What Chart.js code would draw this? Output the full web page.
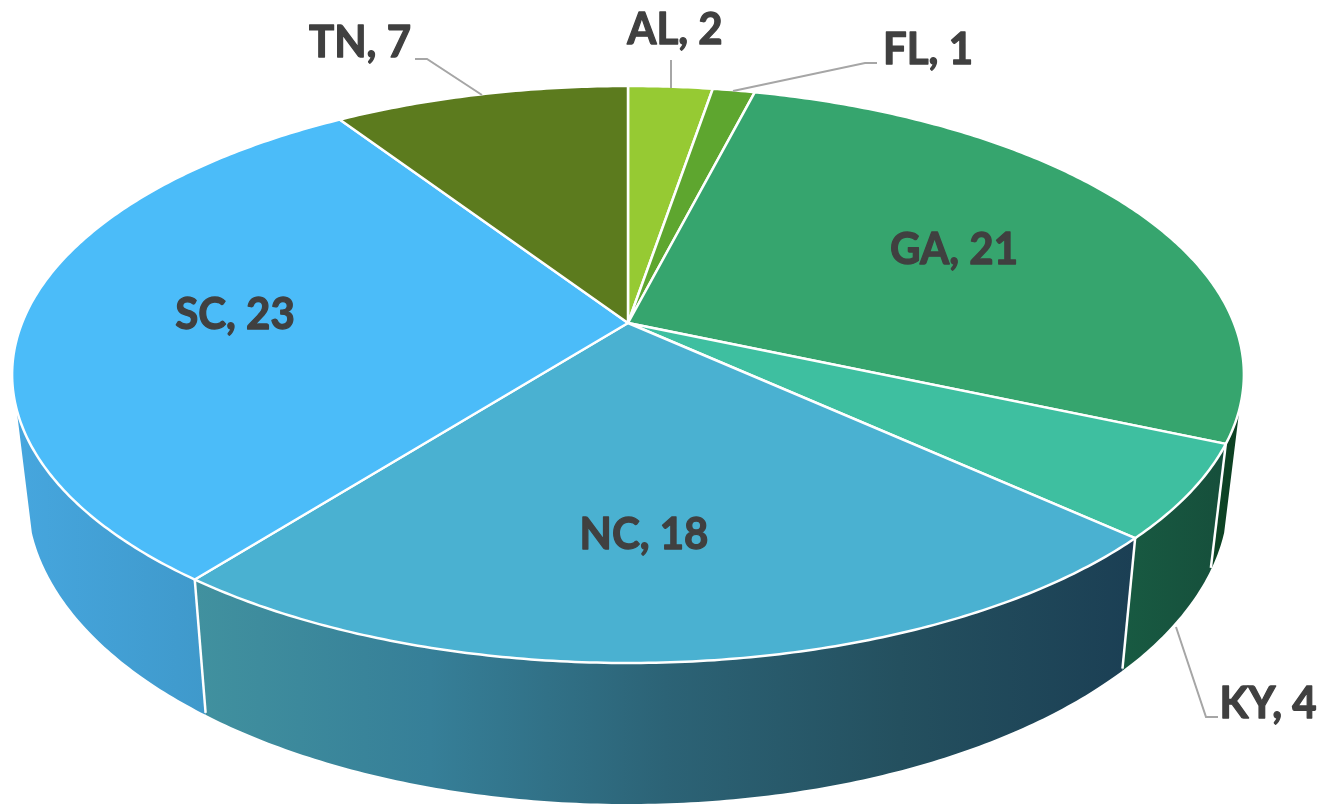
<!DOCTYPE html>
<html>
<head>
<meta charset="utf-8">
<style>html,body{margin:0;padding:0;background:#fff}canvas{display:block}</style>
<script src="https://cdn.jsdelivr.net/npm/chart.js@4"></script>
</head>
<body>
<canvas id="c" width="1321" height="804"></canvas>
<script>
const categories = ['AL','FL','GA','KY','NC','SC','TN'];
const values = [2,1,21,4,18,23,7];
const topColors = ['#96ca33','#5ea62f','#36a56e','#3ebfa0','#4ab1d1','#4bbcf9','#5c7b1e'];
const wallStops = [
  ['#6d9a20','#6d9a20'],['#3d7a1e','#3d7a1e'],['#0d4526','#0d3f22'],
  ['#185a42','#164f3b'],
  ['#41919f','#367f98','#2c6376','#24505f','#1b3f54'],
  ['#46a6de','#3f99cb'],['#3f5a14','#3f5a14']
];
const labelAnchors = [[675,30],[928,50],[954,250],[1268,704],[644,535],[235,315],[360,43]];
const leaders = [
  [[671,60],[671,88]],
  [[877,63],[865,63],[733,91]],
  null,
  [[1218,717],[1206,717],[1176,627]],
  null,null,
  [[415,59],[427,59],[482,95]]
];

// perspective view of the pie disc
const view = {cx:628, cy:323, a:606, b:279.3, p:-0.1785};
const rimMin = 107*Math.PI/180 - Math.PI/2, rimMax = 253*Math.PI/180 - Math.PI/2;
function project(angle){
  const u=Math.cos(angle), v=Math.sin(angle), d=1+view.p*v;
  return [view.cx+view.a*u/d, view.cy+view.b*v/d];
}
function lower(pt){ return [view.cx+(pt[0]-view.cx)*0.975, pt[1]*1.0685+95.6]; }
function samples(a0,a1){
  const n=Math.max(2,Math.ceil((a1-a0)/0.01)), out=[];
  for(let i=0;i<=n;i++) out.push(project(a0+(a1-a0)*i/n));
  return out;
}

// each slice is drawn by the library's arc element, through the perspective view
Chart.ArcElement.prototype.draw = function(ctx){
  const o=this.options;
  const pts=samples(this.startAngle,this.endAngle);
  ctx.save();
  ctx.beginPath();
  ctx.moveTo(view.cx,view.cy);
  pts.forEach(p=>ctx.lineTo(p[0],p[1]));
  ctx.closePath();
  ctx.fillStyle=o.backgroundColor;
  ctx.fill();
  ctx.lineWidth=o.borderWidth;
  ctx.strokeStyle=o.borderColor;
  ctx.lineJoin='round';
  ctx.stroke();
  ctx.restore();
};

const wallPlugin={
  id:'wall',
  beforeDatasetsDraw(chart){
    const ctx=chart.ctx, arcs=chart.getDatasetMeta(0).data;
    ctx.save();
    arcs.forEach((arc,i)=>{
      const a0=Math.max(arc.startAngle,rimMin), a1=Math.min(arc.endAngle,rimMax);
      if(a1<=a0) return;
      const up=samples(a0,a1), lo=up.map(lower).reverse();
      const xs=up.concat(lo).map(p=>p[0]);
      const g=ctx.createLinearGradient(Math.min(...xs),0,Math.max(...xs),0);
      const st=wallStops[i];
      st.forEach((c,k)=>g.addColorStop(k/(st.length-1),c));
      ctx.beginPath();
      up.concat(lo).forEach((p,k)=>k?ctx.lineTo(p[0],p[1]):ctx.moveTo(p[0],p[1]));
      ctx.closePath();
      ctx.fillStyle=g;
      ctx.fill();
    });
    ctx.strokeStyle='#ffffff';
    ctx.lineWidth=2.5;
    arcs.forEach(arc=>{
      const a=arc.endAngle;
      if(a>rimMin && a<rimMax){
        const p=project(a), q=lower(p);
        ctx.beginPath();ctx.moveTo(p[0],p[1]);ctx.lineTo(q[0],q[1]-2);ctx.stroke();
      }
    });
    ctx.restore();
  },
  afterDatasetsDraw(chart){
    const ctx=chart.ctx;
    ctx.save();
    ctx.strokeStyle='#a6a6a6';
    ctx.lineWidth=2;
    leaders.forEach(l=>{
      if(!l) return;
      ctx.beginPath();
      l.forEach((p,k)=>k?ctx.lineTo(p[0],p[1]):ctx.moveTo(p[0],p[1]));
      ctx.stroke();
    });
    ctx.fillStyle='#404040';
    ctx.strokeStyle='#404040';
    ctx.lineWidth=1.3;
    ctx.lineJoin='round';
    ctx.font='bold 44px Lato';
    ctx.textAlign='center';
    ctx.textBaseline='middle';
    categories.forEach((c,i)=>{
      ctx.save();
      ctx.translate(labelAnchors[i][0],labelAnchors[i][1]);
      ctx.scale(0.955,1);
      ctx.fillText(c+', '+values[i],0,0);
      ctx.strokeText(c+', '+values[i],0,0);
      ctx.restore();
    });
    ctx.restore();
  }
};

new Chart(document.getElementById('c'),{
  type:'pie',
  data:{labels:categories,datasets:[{data:values,backgroundColor:topColors,borderColor:'#ffffff',borderWidth:2.5}]},
  options:{
    responsive:false,
    animation:false,
    plugins:{legend:{display:false},tooltip:{enabled:false}}
  },
  plugins:[wallPlugin]
});
</script>
</body>
</html>
